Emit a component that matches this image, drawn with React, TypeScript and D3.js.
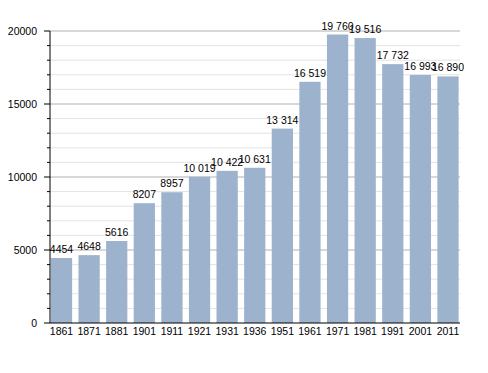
import React from "react";
import * as d3 from "d3";

const years = ["1861","1871","1881","1901","1911","1921","1931","1936","1951","1961","1971","1981","1991","2001","2011"];
const population = [4454,4648,5616,8207,8957,10019,10422,10631,13314,16519,19760,19516,17732,16993,16890];
const majorTicks = [0,5000,10000,15000,20000];
const minorTicks = d3.range(1000, 20000, 1000).filter(v => v % 5000 !== 0);

const fmt = (v: number) => v >= 10000 ? d3.format(",")(v).replace(/,/g, " ") : String(v);

export default function App() {
  const W = 488, H = 373;
  const left = 50, right = 460, top = 31, bottom = 323;
  const x = d3.scaleBand<string>().domain(years).range([49.5, right]).paddingInner(0.23).paddingOuter(0.05);
  const y = d3.scaleLinear().domain([0, 20000]).range([bottom, top]);
  const font = "'Liberation Sans', Arial, sans-serif";
  return (
    <svg width={W} height={H} style={{ position: "absolute", left: 0, top: 0, background: "#fff" }} fontFamily={font}>
      {minorTicks.map(t => (
        <g key={"m" + t}>
          <line x1={left} x2={right} y1={y(t)} y2={y(t)} stroke="#e3e3e3" strokeWidth={1} />
          <line x1={left - 3} x2={left} y1={y(t)} y2={y(t)} stroke="#000" strokeWidth={1} />
        </g>
      ))}
      {majorTicks.filter(t => t > 0).map(t => (
        <line key={"g" + t} x1={left} x2={right} y1={y(t)} y2={y(t)} stroke="#b0b0b0" strokeWidth={1} />
      ))}
      {years.map((yr, i) => (
        <rect key={yr} x={x(yr)} y={y(population[i])} width={x.bandwidth()} height={bottom - y(population[i])} fill="#9db3cd" />
      ))}
      {years.map((yr, i) => (
        <text key={"l" + yr} x={(x(yr) as number) + x.bandwidth() / 2} y={y(population[i]) - 5} textAnchor="middle" fontSize={10.5} fill="#000">{fmt(population[i])}</text>
      ))}
      <line x1={left} x2={left} y1={top} y2={bottom} stroke="#000" strokeWidth={1} />
      <line x1={left} x2={right} y1={bottom} y2={bottom} stroke="#000" strokeWidth={1} />
      {majorTicks.map(t => (
        <g key={"t" + t}>
          <line x1={left - 6} x2={left} y1={y(t)} y2={y(t)} stroke="#000" strokeWidth={1} />
          <text x={37} y={y(t) + 4} textAnchor="end" fontSize={10.5} fill="#000">{t}</text>
        </g>
      ))}
      {years.map(yr => (
        <text key={"x" + yr} x={(x(yr) as number) + x.bandwidth() / 2} y={bottom + 12} textAnchor="middle" fontSize={10.5} fill="#000">{yr}</text>
      ))}
    </svg>
  );
}
